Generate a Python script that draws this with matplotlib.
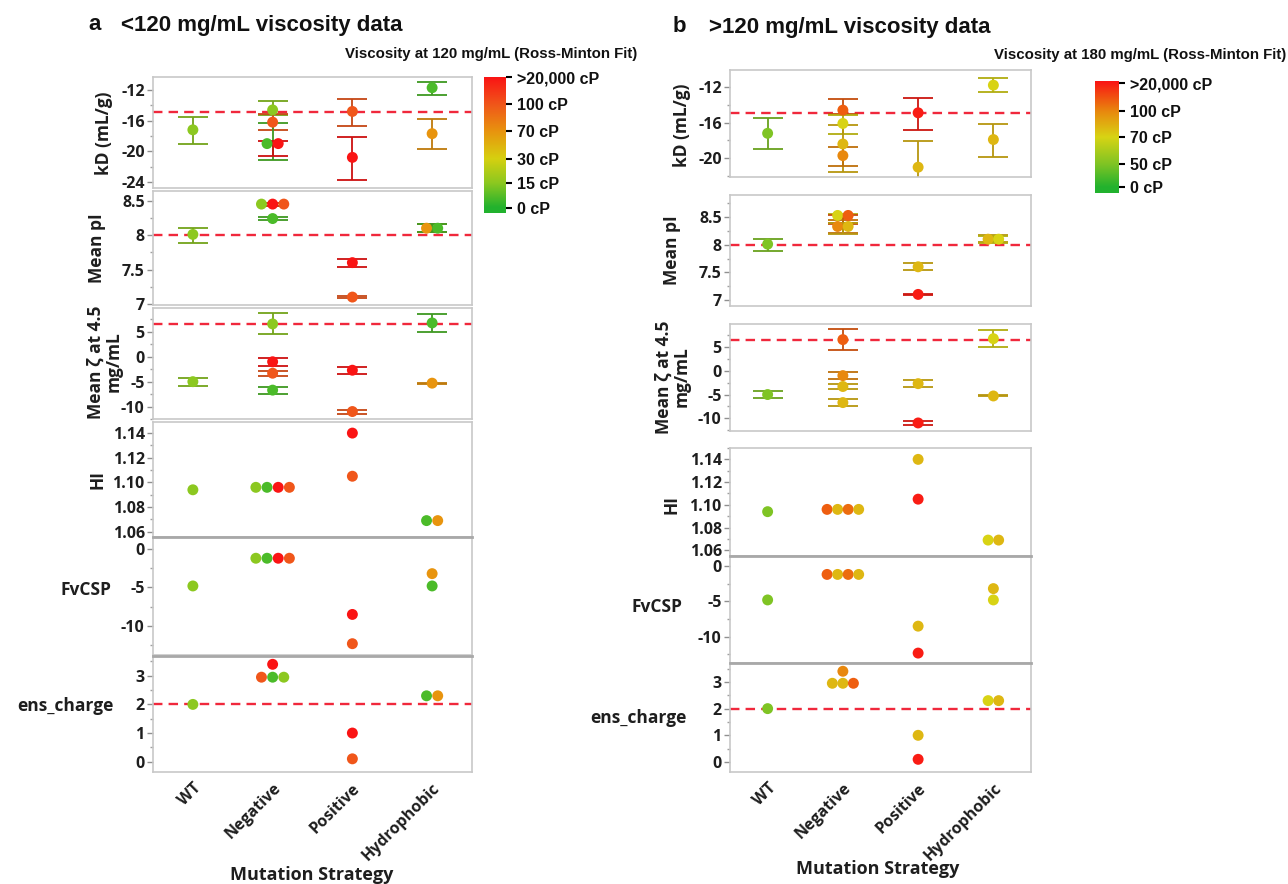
import numpy as np
import matplotlib.pyplot as plt
from matplotlib.colors import LinearSegmentedColormap
from matplotlib.ticker import MultipleLocator, FormatStrFormatter

plt.rcParams['font.family'] = ['Open Sans', 'DejaVu Sans']
plt.rcParams['font.weight'] = 'bold'
plt.rcParams['axes.unicode_minus'] = False

W, H = 1288, 884

categories = ['WT', 'Negative', 'Positive', 'Hydrophobic']
cat_idx = [0, 1, 1, 1, 1, 2, 2, 3, 3]
metrics = ['kD (mL/g)', 'Mean pI', 'Mean ζ at 4.5\nmg/mL', 'HI', 'FvCSP', 'ens_charge']

# ---------------- panel a : viscosity at 120 mg/mL ----------------
a_cb_ticks = [0, 15, 30, 70, 100, 20000]
a_cb_labels = ['0 cP', '15 cP', '30 cP', '70 cP', '100 cP', '>20,000 cP']

a_kd = [-17.2, -14.6, -16.2, -19.0, -19.0, -14.8, -20.8, -11.7, -17.7]
a_kd_lo = [-19.0, -15.3, -17.2, -21.2, -20.6, -16.7, -23.7, -12.6, -19.7]
a_kd_hi = [-15.5, -13.4, -15.1, -16.3, -18.6, -13.2, -18.1, -11.0, -15.8]
a_kd_visc = [15, 15, 100, 2, 20000, 100, 20000, 2, 70]

a_pi = [8.01, 8.45, 8.45, 8.45, 8.24, 7.60, 7.10, 8.10, 8.10]
a_pi_lo = [7.89, 8.42, 8.42, 8.42, 8.22, 7.54, 7.09, 8.04, 8.04]
a_pi_hi = [8.11, 8.47, 8.47, 8.47, 8.26, 7.66, 7.11, 8.16, 8.16]
a_pi_visc = [15, 15, 20000, 100, 2, 20000, 100, 70, 2]

a_zeta = [-5.0, 6.6, -1.0, -3.3, -6.7, -2.7, -11.0, 6.8, -5.3]
a_zeta_lo = [-5.8, 4.5, -1.8, -3.9, -7.4, -3.4, -11.4, 5.0, -5.4]
a_zeta_hi = [-4.2, 8.8, -0.2, -2.8, -6.0, -2.0, -10.6, 8.6, -5.2]
a_zeta_visc = [15, 15, 20000, 100, 2, 20000, 100, 2, 70]

a_hi = [1.094, 1.096, 1.096, 1.096, 1.096, 1.140, 1.105, 1.069, 1.069]
a_hi_visc = [15, 15, 2, 20000, 100, 20000, 100, 2, 70]

a_fv = [-4.8, -1.2, -1.2, -1.2, -1.2, -8.5, -12.3, -3.2, -4.8]
a_fv_visc = [15, 15, 2, 20000, 100, 20000, 100, 70, 2]

a_ens = [2.0, 3.4, 2.95, 2.95, 2.95, 1.0, 0.1, 2.3, 2.3]
a_ens_visc = [15, 20000, 100, 2, 15, 20000, 100, 2, 70]

# ---------------- panel b : viscosity at 180 mg/mL ----------------
b_cb_ticks = [0, 50, 70, 100, 20000]
b_cb_labels = ['0 cP', '50 cP', '70 cP', '100 cP', '>20,000 cP']

b_kd = [-17.2, -14.6, -16.1, -18.4, -19.7, -14.9, -21.0, -11.8, -17.9]
b_kd_lo = [-19.0, -15.0, -17.3, -21.5, -20.9, -16.8, -23.0, -12.6, -19.9]
b_kd_hi = [-15.5, -13.3, -15.1, -16.3, -18.7, -13.2, -18.1, -11.0, -16.1]
b_kd_visc = [48, 800, 70, 80, 100, 20000, 80, 70, 80]

b_pi = [8.01, 8.53, 8.53, 8.33, 8.33, 7.60, 7.10, 8.10, 8.10]
b_pi_lo = [7.89, 8.40, 8.38, 8.22, 8.20, 7.54, 7.09, 8.04, 8.03]
b_pi_hi = [8.11, 8.55, 8.54, 8.45, 8.40, 7.66, 7.11, 8.17, 8.16]
b_pi_visc = [48, 70, 800, 100, 80, 80, 20000, 80, 70]

b_zeta = [-5.0, 6.6, -1.0, -3.3, -6.7, -2.7, -11.0, 6.8, -5.3]
b_zeta_lo = [-5.8, 4.5, -1.8, -3.9, -7.4, -3.4, -11.4, 5.0, -5.4]
b_zeta_hi = [-4.2, 8.8, -0.2, -2.8, -6.0, -2.0, -10.6, 8.6, -5.2]
b_zeta_visc = [48, 800, 100, 80, 80, 80, 20000, 70, 80]

b_hi = [1.094, 1.096, 1.096, 1.096, 1.096, 1.140, 1.105, 1.069, 1.069]
b_hi_visc = [48, 800, 80, 400, 80, 80, 20000, 70, 80]

b_fv = [-4.8, -1.2, -1.2, -1.2, -1.2, -8.5, -12.3, -3.2, -4.8]
b_fv_visc = [48, 800, 80, 400, 80, 80, 20000, 80, 70]

b_ens = [2.0, 3.4, 2.95, 2.95, 2.95, 1.0, 0.1, 2.3, 2.3]
b_ens_visc = [48, 100, 80, 80, 800, 80, 20000, 70, 80]

# reference (WT) lines
ref_kd, ref_pi, ref_zeta, ref_ens = -14.9, 8.0, 6.5, 2.0


def px(x0, y0, x1, y1):
    return [x0 / W, 1 - y1 / H, (x1 - x0) / W, (y1 - y0) / H]


a_cmap = LinearSegmentedColormap.from_list('a', [
    (0, '#22b22e'), (0.04, '#22b22e'), (0.22, '#8cc820'), (0.40, '#d6d010'),
    (0.60, '#e8940e'), (0.80, '#f0561a'), (1.0, '#fa1414')])
a_pos = [0.04, 0.22, 0.40, 0.60, 0.80, 1.0]
b_cmap = LinearSegmentedColormap.from_list('b', [
    (0, '#22b22e'), (0.05, '#22b22e'), (0.26, '#80c424'), (0.50, '#d8d414'),
    (0.73, '#e8880e'), (1.0, '#fa1414')])
b_pos = [0.05, 0.26, 0.50, 0.73, 0.98]


def color_fn(cmap, ticks, pos):
    lt = np.log10(np.array(ticks, float) + 1)
    return lambda v: cmap(np.interp(np.log10(v + 1), lt, pos))


def darken(c, f=0.82):
    return (c[0] * f, c[1] * f, c[2] * f, 1)


def draw(ax, vals, visc, cfn, lo=None, hi=None, ref=None, step=0.14):
    vals = np.asarray(vals, float)
    cats = np.asarray(cat_idx)
    xs = cats.astype(float)
    for c in np.unique(cats):
        for v in np.unique(vals[cats == c]):
            idx = np.where((cats == c) & (vals == v))[0]
            xs[idx] += (np.arange(len(idx)) - (len(idx) - 1) / 2) * step
    cols = [cfn(v) for v in visc]
    if ref is not None:
        ax.axhline(ref, color='#f0283c', lw=1.7, dashes=(4, 2.6), zorder=1)
    if lo is not None:
        for i in range(len(vals)):
            yerr = [[max(vals[i] - lo[i], 0)], [max(hi[i] - vals[i], 0)]]
            ax.errorbar(cats[i], vals[i], yerr=yerr,
                        fmt='none', ecolor=darken(cols[i]), elinewidth=1.3,
                        capsize=11, capthick=1.3, zorder=2)
    ax.scatter(xs, vals, s=62, c=cols, linewidths=0, zorder=3)


def style(ax, ylim, major, minor, fmt, bottom=False):
    ax.set_xlim(-0.5, 3.5)
    ax.set_ylim(*ylim)
    ax.yaxis.set_major_locator(MultipleLocator(major))
    ax.yaxis.set_minor_locator(MultipleLocator(minor))
    ax.yaxis.set_major_formatter(FormatStrFormatter(fmt))
    for s in ax.spines.values():
        s.set_color('#c8c8c8')
        s.set_linewidth(1.2)
    ax.tick_params(axis='y', which='major', length=4, width=1, color='#909090',
                   labelsize=11.5, labelcolor='#1e1e1e', pad=2)
    ax.tick_params(axis='y', which='minor', length=2.5, width=1, color='#a0a0a0')
    if bottom:
        ax.set_xticks(range(4))
        ax.set_xticklabels(categories, rotation=45, ha='right', va='top',
                           rotation_mode='anchor', fontsize=11.5, color='#1e1e1e')
        ax.tick_params(axis='x', length=0, pad=6)
    else:
        ax.set_xticks([])


fig = plt.figure(figsize=(W / 100, H / 100), dpi=100)

panels = [
    dict(x0=153, x1=472, rows=[(77, 188), (191, 305), (308, 419), (422, 537), (537, 655), (656, 772)],
         cmap=a_cmap, pos=a_pos, ticks=a_cb_ticks, labels=a_cb_labels,
         kd=(a_kd, a_kd_visc, a_kd_lo, a_kd_hi), pi=(a_pi, a_pi_visc, a_pi_lo, a_pi_hi),
         zeta=(a_zeta, a_zeta_visc, a_zeta_lo, a_zeta_hi), hi=(a_hi, a_hi_visc),
         fv=(a_fv, a_fv_visc), ens=(a_ens, a_ens_visc),
         lims=[(-24.8, -10.3), (6.985, 8.64), (-12.5, 9.8), (1.0557, 1.149), (-13.77, 1.56), (-0.36, 3.69)],
         ylab=[(104, 133, 90), (97, 248, 90), (105, 362, 90), (98, 480, 90), (86, 590, 0), (65, 706, 0)],
         title_letter='a', title='<120 mg/mL viscosity data', tx=(88, 121, 25),
         cbt='Viscosity at 120 mg/mL (Ross-Minton Fit)', cbt_pos=(637, 54),
         cbar=(484, 77, 506, 213), xlab=(312, 875)),
    dict(x0=730, x1=1031, rows=[(70, 177), (195, 306), (324, 431), (448, 556), (556, 663), (663, 772)],
         cmap=b_cmap, pos=b_pos, ticks=b_cb_ticks, labels=b_cb_labels,
         kd=(b_kd, b_kd_visc, b_kd_lo, b_kd_hi), pi=(b_pi, b_pi_visc, b_pi_lo, b_pi_hi),
         zeta=(b_zeta, b_zeta_visc, b_zeta_lo, b_zeta_hi), hi=(b_hi, b_hi_visc),
         fv=(b_fv, b_fv_visc), ens=(b_ens, b_ens_visc),
         lims=[(-22.1, -10.1), (6.89, 8.9), (-12.7, 9.9), (1.055, 1.150), (-13.7, 1.4), (-0.375, 3.71)],
         ylab=[(682, 125, 90), (672, 250, 90), (673, 377, 90), (672, 505, 90), (657, 607, 0), (638, 718, 0)],
         title_letter='b', title='>120 mg/mL viscosity data', tx=(673, 709, 27),
         cbt='Viscosity at 180 mg/mL (Ross-Minton Fit)', cbt_pos=(1286, 55),
         cbar=(1095, 81, 1119, 193), xlab=(878, 869)),
]

majors = [(4, 2, '%g'), (0.5, 0.25, '%g'), (5, 2.5, '%g'), (0.02, 0.01, '%.2f'), (5, 2.5, '%g'), (1, 0.5, '%g')]

for p in panels:
    cfn = color_fn(p['cmap'], p['ticks'], p['pos'])
    axes = []
    for i, (y0, y1) in enumerate(p['rows']):
        ax = fig.add_axes(px(p['x0'], y0, p['x1'], y1))
        style(ax, p['lims'][i], *majors[i], bottom=(i == 5))
        axes.append(ax)
    v, c, lo, hi = p['kd']
    draw(axes[0], v, c, cfn, lo, hi, ref=ref_kd)
    v, c, lo, hi = p['pi']
    draw(axes[1], v, c, cfn, lo, hi, ref=ref_pi)
    v, c, lo, hi = p['zeta']
    draw(axes[2], v, c, cfn, lo, hi, ref=ref_zeta)
    draw(axes[3], *p['hi'], cfn)
    draw(axes[4], *p['fv'], cfn)
    draw(axes[5], *p['ens'], cfn, ref=ref_ens)
    # darker separators between the stacked lower panels
    for ax in axes[4:]:
        ax.spines['top'].set_color('#a8a8a8')
        ax.spines['top'].set_linewidth(2)

    for name, (x, y, rot) in zip(metrics, p['ylab']):
        fig.text(x / W, 1 - y / H, name, rotation=rot, ha='center', va='center',
                 fontsize=12.5, color='#1e1e1e', linespacing=1.0)

    lx, tx, ty = p['tx']
    fig.text(lx / W, 1 - ty / H, p['title_letter'], ha='left', va='center',
             fontsize=16, family='Liberation Sans', color='#111111')
    fig.text(tx / W, 1 - ty / H, p['title'], ha='left', va='center',
             fontsize=16, family='Liberation Sans', color='#111111')
    fig.text(p['cbt_pos'][0] / W, 1 - p['cbt_pos'][1] / H, p['cbt'], ha='right', va='center',
             fontsize=10.8, family='Liberation Sans', color='#111111')
    fig.text(p['xlab'][0] / W, 1 - p['xlab'][1] / H, 'Mutation Strategy', ha='center',
             va='center', fontsize=13, color='#1e1e1e')

    cax = fig.add_axes(px(*p['cbar']))
    cax.imshow(np.linspace(0, 1, 256)[:, None], aspect='auto', cmap=p['cmap'],
               origin='lower', extent=[0, 1, 0, 1])
    cax.set_xticks([])
    cax.yaxis.tick_right()
    cax.set_yticks(p['pos'])
    cax.set_yticklabels(p['labels'], fontsize=11.5, family='Liberation Sans', color='#111111')
    cax.tick_params(axis='y', length=4, width=1.5, pad=4)
    for t, q in zip(cax.yaxis.get_major_ticks(), p['pos']):
        t.tick2line.set_color(p['cmap'](q))
    for s in cax.spines.values():
        s.set_visible(False)

fig.savefig('out.png', dpi=100, facecolor='white')
